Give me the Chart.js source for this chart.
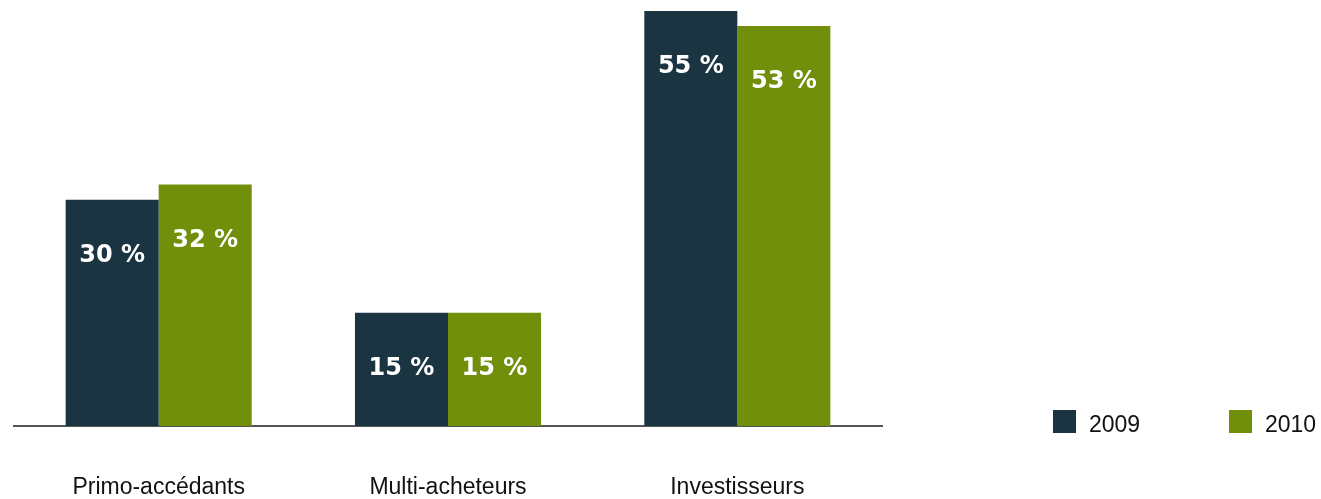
<!DOCTYPE html>
<html lang="fr">
<head>
    <meta charset="UTF-8">
    <title>Profil des acquéreurs 2009-2010</title>
    <script src="https://cdn.jsdelivr.net/npm/chart.js"></script>
    <style>
        html, body {
            margin: 0;
            padding: 0;
            background: #fff;
        }
        .wrap {
            position: relative;
            width: 1321px;
            height: 499px;
        }
    </style>
</head>
<body>

<div class="wrap">
    <canvas id="buyersChart" width="1321" height="499"></canvas>
</div>

<script>
    // Categories and shares (%) per year
    const categories = ['Primo-accédants', 'Multi-acheteurs', 'Investisseurs'];
    const years = ['2009', '2010'];
    const values2009 = [30, 15, 55];
    const values2010 = [32, 15, 53];
    const yearColors = ['#1a3441', '#728f0b'];

    // white value labels inside the bars, a little below their tops
    const barValueLabels = {
        id: 'barValueLabels',
        afterDatasetsDraw(chart) {
            const ctx = chart.ctx;
            ctx.save();
            ctx.fillStyle = '#ffffff';
            ctx.font = 'bold 24px "DejaVu Sans", sans-serif';
            ctx.textAlign = 'center';
            ctx.textBaseline = 'middle';
            chart.data.datasets.forEach((ds, i) => {
                chart.getDatasetMeta(i).data.forEach((bar, j) => {
                    ctx.fillText(ds.data[j] + ' %', bar.x, bar.y + 56);
                });
            });
            ctx.restore();
        }
    };

    // legend drawn on the right, in one row
    const sideLegend = {
        id: 'sideLegend',
        afterDraw(chart) {
            const ctx = chart.ctx;
            const slots = [1053, 1229];
            ctx.save();
            ctx.font = '23px "Liberation Sans", Arial, sans-serif';
            ctx.textBaseline = 'alphabetic';
            chart.data.datasets.forEach((ds, i) => {
                const x = slots[i];
                ctx.fillStyle = ds.backgroundColor;
                ctx.fillRect(x, 410, 23, 23);
                ctx.fillStyle = '#111111';
                ctx.fillText(ds.label, x + 36, 432);
            });
            ctx.restore();
        }
    };

    new Chart(document.getElementById('buyersChart'), {
        type: 'bar',
        data: {
            labels: categories,
            datasets: [
                { label: years[0], data: values2009, backgroundColor: yearColors[0] },
                { label: years[1], data: values2010, backgroundColor: yearColors[1] }
            ]
        },
        options: {
            responsive: false,
            animation: false,
            categoryPercentage: 0.643,
            barPercentage: 1.0,
            layout: {
                padding: { top: 11, left: 14, right: 439, bottom: -50 }
            },
            scales: {
                x: {
                    grid: { display: false, drawTicks: false },
                    border: { display: true, color: '#555555', width: 2 },
                    ticks: {
                        color: '#111111',
                        padding: 50,
                        font: { family: '"Liberation Sans", Arial, sans-serif', size: 23, lineHeight: 1 }
                    }
                },
                y: {
                    display: false,
                    min: 0,
                    max: 55
                }
            },
            plugins: {
                legend: { display: false },
                tooltip: { enabled: false }
            }
        },
        plugins: [barValueLabels, sideLegend]
    });
</script>

</body>
</html>
